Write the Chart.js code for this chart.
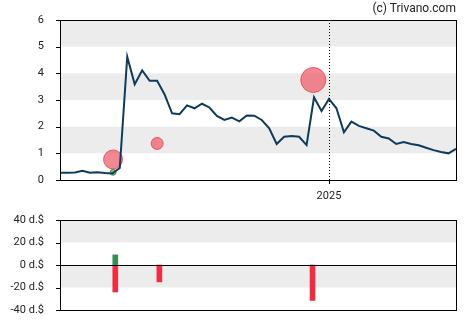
<!DOCTYPE html>
<html>
<head>
<meta charset="utf-8">
<script src="https://cdn.jsdelivr.net/npm/chart.js@4.4.1/dist/chart.umd.min.js"></script>
<style>
  html, body { margin: 0; padding: 0; background: #fff; }
  #wrap { position: relative; width: 470px; height: 325px; }
  #priceBox { position: absolute; left: 0; top: 0; width: 470px; height: 200px; }
  #flowBox { position: absolute; left: 0; top: 200px; width: 470px; height: 125px; }
  #credit { position: absolute; right: 14px; top: 1px; font: 12px Roboto, Arial, sans-serif; color: #222; }
</style>
</head>
<body>
<div id="wrap">
  <div id="priceBox"><canvas id="priceChart"></canvas></div>
  <div id="flowBox"><canvas id="flowChart"></canvas></div>
  <div id="credit">(c) Trivano.com</div>
</div>
<script>
// weekly closing price
const prices = [
  0.27, 0.27, 0.28, 0.35, 0.27, 0.29, 0.26, 0.24, 0.45, 4.62,
  3.59, 4.11, 3.72, 3.72, 3.21, 2.50, 2.47, 2.80, 2.69, 2.86,
  2.72, 2.40, 2.25, 2.34, 2.20, 2.42, 2.41, 2.25, 1.94, 1.35,
  1.62, 1.65, 1.62, 1.31, 3.10, 2.59, 3.04, 2.69, 1.79, 2.19,
  2.03, 1.94, 1.85, 1.62, 1.56, 1.35, 1.42, 1.35, 1.30, 1.21,
  1.12, 1.05, 1.00, 1.17
];

// insider trades: week index, price level, bubble radius
const sellWeeks = [7.1, 13.0, 33.9];
const sellPrices = [0.77, 1.37, 3.75];
const sellSizes = [9.5, 6, 12.5];
const buyWeeks = [7.1];
const buyPrices = [0.29];
const buySizes = [3];

// net trade value per event
const buyBarWeeks = [7.4];
const buyBarValues = [9];
const sellBarWeeks = [7.4, 13.3, 33.8];
const sellBarValues = [-24, -15, -31.5];

const yearWeek = 36;
const yearLabel = "2025";
const flowMin = -40;
const flowMax = 40;
const flowStep = 20;

const tickFont = { family: "Roboto, Arial, sans-serif", size: 11 };
const textColor = "#222";
const bandColor = "#ececec";

function fixWidth(w) {
  return (scale) => { scale.width = w; };
}
function fixHeight(h) {
  return (scale) => { scale.height = h; };
}

// shaded bands between every other pair of ticks, plus the frame
const bandsPlugin = {
  id: "bands",
  beforeDatasetsDraw(chart, args, opts) {
    const { ctx, chartArea: a, scales: { y } } = chart;
    ctx.save();
    ctx.fillStyle = bandColor;
    for (const [lo, hi] of opts.bands) {
      const top = y.getPixelForValue(hi);
      const bot = y.getPixelForValue(lo);
      ctx.fillRect(a.left, top, a.right - a.left, bot - top);
    }
    ctx.restore();
  },
  afterDraw(chart, args, opts) {
    const { ctx, chartArea: a, scales: { x, y } } = chart;
    ctx.save();
    ctx.strokeStyle = "#000";
    ctx.lineWidth = 1;
    if (opts.markWeek != null) {
      const px = Math.round(x.getPixelForValue(opts.markWeek)) + 0.5;
      ctx.setLineDash([1, 2]);
      ctx.beginPath();
      ctx.moveTo(px, a.top);
      ctx.lineTo(px, a.bottom);
      ctx.stroke();
      ctx.setLineDash([]);
      ctx.beginPath();
      ctx.moveTo(px, a.bottom);
      ctx.lineTo(px, a.bottom + 4);
      ctx.stroke();
    }
    if (opts.zeroLine) {
      const py = Math.round(y.getPixelForValue(0)) + 0.5;
      ctx.beginPath();
      ctx.moveTo(a.left, py);
      ctx.lineTo(a.right, py);
      ctx.stroke();
    }
    ctx.strokeRect(Math.round(a.left) + 0.5, Math.round(a.top) + 0.5,
      Math.round(a.right - a.left), Math.round(a.bottom - a.top));
    // y tick marks outside the frame
    for (const t of y.ticks) {
      const py = Math.round(y.getPixelForValue(t.value)) + 0.5;
      ctx.beginPath();
      ctx.moveTo(a.left - 4, py);
      ctx.lineTo(a.left, py);
      ctx.stroke();
    }
    ctx.restore();
  }
};

new Chart(document.getElementById("priceChart"), {
  data: {
    datasets: [
      {
        type: "bubble",
        data: sellWeeks.map((w, i) => ({ x: w, y: sellPrices[i], r: sellSizes[i] })),
        backgroundColor: "rgba(238,96,108,0.75)",
        borderColor: "rgba(232,70,86,0.85)",
        borderWidth: 1,
        order: 2,
      },
      {
        type: "bubble",
        data: buyWeeks.map((w, i) => ({ x: w, y: buyPrices[i], r: buySizes[i] })),
        backgroundColor: "rgba(80,170,100,0.8)",
        borderColor: "rgba(60,140,80,0.9)",
        borderWidth: 1,
        order: 3,
      },
      {
        type: "line",
        data: prices.map((p, i) => ({ x: i, y: p })),
        borderColor: "#0e3b5c",
        borderWidth: 2,
        pointRadius: 0,
        tension: 0,
        fill: false,
        order: 1,
      },
    ],
  },
  options: {
    responsive: true,
    maintainAspectRatio: false,
    animation: false,
    layout: { padding: { top: 20, right: 14, left: 0, bottom: 0 } },
    plugins: {
      legend: { display: false },
      tooltip: { enabled: false },
      bands: { bands: [[1, 2], [3, 4], [5, 6]], markWeek: yearWeek },
    },
    scales: {
      x: {
        type: "linear",
        min: 0,
        max: prices.length - 1,
        grid: { display: false },
        border: { display: false },
        afterFit: fixHeight(20),
        afterBuildTicks: (scale) => { scale.ticks = [{ value: yearWeek }]; },
        ticks: {
          font: tickFont,
          color: textColor,
          padding: 2,
          maxRotation: 0,
          callback: () => yearLabel,
        },
      },
      y: {
        min: 0,
        max: 6,
        grid: { display: false },
        border: { display: false },
        afterFit: fixWidth(60),
        ticks: { stepSize: 1, font: tickFont, color: textColor, padding: 8 },
      },
    },
  },
  plugins: [bandsPlugin],
});

new Chart(document.getElementById("flowChart"), {
  type: "bar",
  data: {
    datasets: [
      {
        data: buyBarWeeks.map((w, i) => ({ x: w, y: buyBarValues[i] })),
        backgroundColor: "#3a8c55",
        barThickness: 5,
        grouped: false,
      },
      {
        data: sellBarWeeks.map((w, i) => ({ x: w, y: sellBarValues[i] })),
        backgroundColor: "#ee2e40",
        barThickness: 5,
        grouped: false,
      },
    ],
  },
  options: {
    responsive: true,
    maintainAspectRatio: false,
    animation: false,
    layout: { padding: { top: 20, right: 14, left: 0, bottom: 0 } },
    plugins: {
      legend: { display: false },
      tooltip: { enabled: false },
      bands: { bands: [[-20, 0], [20, 40]], zeroLine: true },
    },
    scales: {
      x: {
        type: "linear",
        min: 0,
        max: prices.length - 1,
        offset: false,
        grid: { display: false },
        border: { display: false },
        ticks: { display: false },
        afterFit: fixHeight(15),
      },
      y: {
        min: flowMin,
        max: flowMax,
        grid: { display: false },
        border: { display: false },
        afterFit: fixWidth(60),
        ticks: {
          stepSize: flowStep,
          autoSkip: false,
          font: tickFont,
          color: textColor,
          padding: 8,
          callback: (v) => v + " d.$",
        },
      },
    },
  },
  plugins: [bandsPlugin],
});
</script>
</body>
</html>
